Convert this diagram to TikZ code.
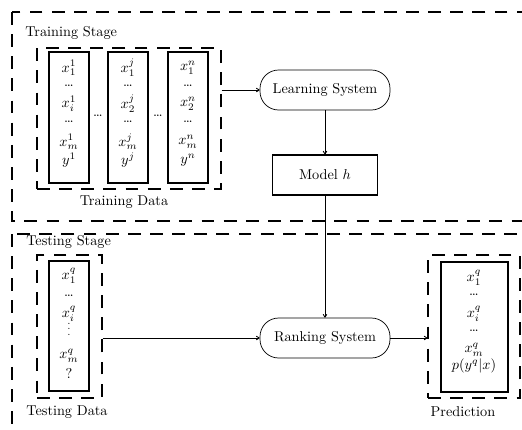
\documentclass[tikz,border=0pt]{standalone}
\usetikzlibrary{arrows.meta}
\begin{document}
\begin{tikzpicture}[x=0.7pt,y=-0.7pt,
  dashbox/.style={draw, line width=0.8pt, dash pattern=on 9pt off 6.5pt, inner sep=0pt},
  databox/.style={draw, line width=0.8pt, inner sep=0pt},
  sysnode/.style={draw, line width=0.5pt, rounded corners=13pt, minimum width=91pt, minimum height=28pt},
  modelbox/.style={draw, line width=0.8pt, minimum width=73.5pt, minimum height=28pt},
  conn/.style={line width=0.6pt, -{To[length=2.5pt,width=3pt]}},
  rowtxt/.style={inner sep=0pt, anchor=center},
  lbl/.style={inner sep=0pt}]
\clip (0,0) rectangle (522,429);
% outer stage boxes
\draw[line width=0.8pt, dash pattern=on 9pt off 6.5pt] (12,12) rectangle (560,221);
\draw[line width=0.8pt, dash pattern=on 9pt off 6.5pt] (12,234) rectangle (560,470);
\node[lbl, anchor=west] (trst) at (25,33) {Training Stage};
\node[lbl, anchor=west] (tsst) at (26,242) {Testing Stage};
% training data
\node[dashbox, minimum width=128.8pt, minimum height=98.7pt] (trainbox) at (129,118.5) {};
\node[databox, minimum width=28pt, minimum height=91.7pt] (b1) at (69,117.5) {};
\node[databox, minimum width=28pt, minimum height=91.7pt] (b2) at (128,117.5) {};
\node[databox, minimum width=28pt, minimum height=91.7pt] (b3) at (188,117.5) {};
\foreach \n/\x/\s in {a/69/1, b/128/j, c/188/n}{
  \node[rowtxt] (\n1) at (\x,68) {$x_1^{\s}$};
  \node[rowtxt] (\n2) at (\x,86) {\dots};
  \node[rowtxt] (\n4) at (\x,122) {\dots};
  \node[rowtxt] (\n5) at (\x,142) {$x_m^{\s}$};
  \node[rowtxt] (\n6) at (\x,160) {$y^{\s}$};
}
\node[rowtxt] (a3) at (69,104) {$x_i^{1}$};
\node[rowtxt] (b3t) at (128,104) {$x_2^{j}$};
\node[rowtxt] (c3) at (188,104) {$x_2^{n}$};
\node[rowtxt] (d1) at (98,116) {\dots};
\node[rowtxt] (d2) at (158,116) {\dots};
\node[lbl] (trdata) at (124,202) {Training Data};
% systems
\node[sysnode] (ls) at (325,90) {Learning System};
\node[modelbox] (mh) at (325,175) {Model $h$};
\node[sysnode] (rs) at (325,338) {Ranking System};
% testing data
\node[dashbox, minimum width=45.5pt, minimum height=100.1pt] (testbox) at (69.5,326.5) {};
\node[databox, minimum width=28pt, minimum height=91pt] (tb) at (69,326) {};
\node[rowtxt] (t1) at (69,276) {$x_1^{q}$};
\node[rowtxt] (t2) at (69,296) {\dots};
\node[rowtxt] (t3) at (69,314) {$x_i^{q}$};
\node[rowtxt, font=\scriptsize] (t4) at (69,325) {$\vdots$};
\node[rowtxt] (t5) at (69,356) {$x_m^{q}$};
\node[rowtxt] (t6) at (69,373) {?};
\node[lbl] (tsdata) at (67,412) {Testing Data};
% prediction
\node[dashbox, minimum width=64.4pt, minimum height=100.1pt] (predbox) at (474,326.5) {};
\node[databox, minimum width=46.9pt, minimum height=91pt] (pb) at (474.5,327) {};
\node[rowtxt] (p1) at (474,278) {$x_1^{q}$};
\node[rowtxt] (p2) at (474,295) {\dots};
\node[rowtxt] (p3) at (474,314) {$x_i^{q}$};
\node[rowtxt] (p4) at (474,331) {\dots};
\node[rowtxt] (p5) at (474,350) {$x_m^{q}$};
\node[rowtxt] (p6) at (474,366) {$p(y^{q}|x)$};
\node[lbl] (pred) at (463,412) {Prediction};
% connectors
\draw[conn] (trainbox.east |- ls) -- (ls);
\draw[conn] (ls) -- (mh);
\draw[conn] (mh) -- (rs);
\draw[conn] (testbox.east |- rs) -- (rs);
\draw[conn] (rs) -- (predbox.west |- rs);
\end{tikzpicture}
\end{document}
